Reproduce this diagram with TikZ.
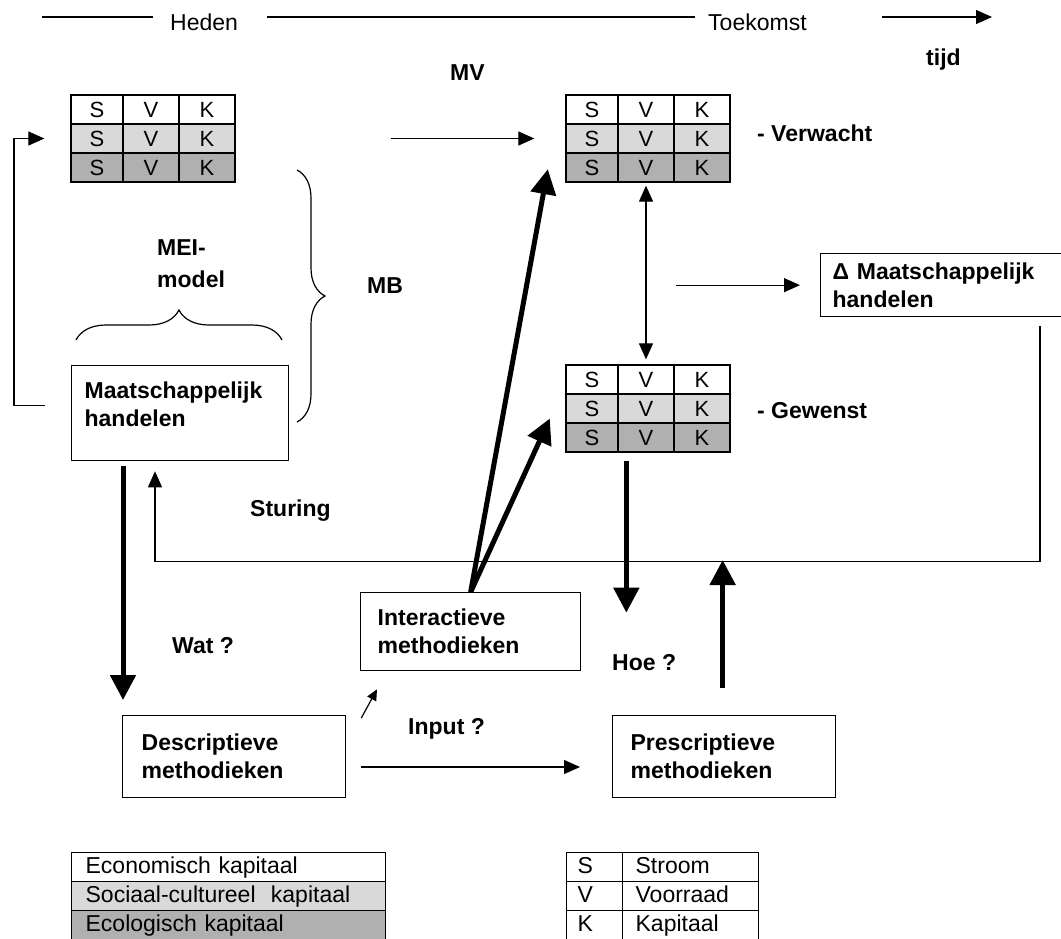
\documentclass[tikz,border=0pt]{standalone}
\usepackage{fontspec}
\setmainfont{Liberation Sans}
\usetikzlibrary{arrows.meta,decorations.pathreplacing,calc}
\definecolor{rowB}{HTML}{D9D9D9}
\definecolor{rowC}{HTML}{B0B0B0}
\newcommand{\txtA}{\fontsize{23}{28}\selectfont}
\newcommand{\txtT}{\fontsize{22}{26}\selectfont}
\newcommand{\svk}[3]{%
  \foreach \r/\c in {0/white,1/rowB,2/rowC}{
    \node[cell,fill=\c,minimum width=52pt] (#1-\r-s) at (#2+26,#3+14.5+29*\r) {S};
    \node[cell,fill=\c,minimum width=56pt] (#1-\r-v) at (#2+80,#3+14.5+29*\r) {V};
    \node[cell,fill=\c,minimum width=56pt] (#1-\r-k) at (#2+136,#3+14.5+29*\r) {K};
  }
  \node[inner sep=0pt,minimum width=164pt,minimum height=87pt] (#1) at (#2+82,#3+43.5) {};
}
\tikzset{
  cell/.style={draw,line width=1.3pt,minimum height=29pt,inner sep=0pt,font=\txtT},
  tbox/.style={draw,line width=1.3pt,font=\txtA\bfseries,align=left,inner ysep=0pt,anchor=north west},
  lcell/.style={draw,line width=1.3pt,minimum height=29pt,font=\txtA,align=left,inner ysep=0pt,
    text height=16.5pt,text depth=4.5pt,anchor=north west},
  lbl/.style={font=\txtA\bfseries,inner sep=0pt,anchor=base west},
  plain/.style={font=\txtA,inner sep=0pt,anchor=base west},
  thinline/.style={line width=1.2pt},
  thinarrow/.style={line width=1.2pt,-{Triangle[length=16pt,width=14pt]}},
  dblarrow/.style={line width=1.2pt,{Triangle[length=16pt,width=14pt]}-{Triangle[length=16pt,width=14pt]}},
  smallarrow/.style={line width=1.2pt,-{Triangle[length=11pt,width=10pt]}},
  thickarrow/.style={line width=5pt,-{Triangle[length=25pt,width=25pt]}},
  bracepath/.style={line width=1.2pt,decorate},
}
\begin{document}
\begin{tikzpicture}[x=1pt,y=-1pt]
\useasboundingbox (0,0) rectangle (1061,938);

% header
\node[plain] (hHeden) at (170,30) {Heden};
\node[plain] (hToek) at (708,30) {Toekomst};
\node[lbl] (tijd) at (926,65) {tijd};
\coordinate (h0) at (42,17);
\coordinate (h1) at (153,17);
\coordinate (h2) at (267,17);
\coordinate (h3) at (695,17);
\coordinate (h4) at (882,17);
\coordinate (h5) at (992,17);
\draw[thinline] (h0) -- (h1);
\draw[thinline] (h2) -- (h3);
\draw[thinarrow] (h4) -- (h5);

\node[lbl] (mv) at (450,80) {MV};

% tables
\svk{tN}{71}{95}
\svk{tV}{566}{95}
\svk{tG}{566}{365}
\node[lbl] (verw) at (757,141) {- Verwacht};
\node[lbl] (gew) at (757,418) {- Gewenst};

% boxes
\node[tbox,minimum height=95pt,inner xsep=13pt,text width=191pt] (mh) at (71,365)
  {Maatschappelijk\\handelen\\[-10pt]\mbox{}};
\node[tbox,minimum height=63pt,inner xsep=12pt,text width=219pt] (dmh) at (820,253)
  {Δ Maatschappelijk\\handelen};
\node[tbox,minimum height=82pt,inner xsep=19pt,text width=185pt] (desc) at (122,715)
  {Descriptieve\\methodieken};
\node[tbox,minimum height=78pt,inner xsep=17pt,text width=186pt] (inter) at (360,592)
  {Interactieve\\methodieken};
\node[tbox,minimum height=82pt,inner xsep=18pt,text width=187pt] (presc) at (612,715)
  {Prescriptieve\\methodieken};

% labels
\node[lbl,align=left,anchor=north west,font=\fontsize{23}{32}\selectfont\bfseries] (mei) at (157,239.5) {MEI-\\model};
\node[lbl] (mb) at (367,293) {MB};
\node[lbl] (stur) at (250,516) {Sturing};
\node[lbl] (wat) at (172,653) {Wat ?};
\node[lbl] (hoe) at (612,670) {Hoe ?};
\node[lbl] (inp) at (408,734) {Input ?};

% braces
\coordinate (mbA) at (297,170);
\coordinate (mbB) at (297,422);
\draw[bracepath,decoration={brace,amplitude=28pt}] (mbA) -- (mbB);
\coordinate (meA) at (76,340);
\coordinate (meB) at (282,340);
\draw[bracepath,decoration={brace,amplitude=30pt}] (meA) -- (meB);

% left feedback
\coordinate (fbS) at ($(mh.west)+(-26,-8)$);
\coordinate (fbE) at ($(tN-1-s.west)+(-26,0)$);
\draw[thinarrow] (fbS) -- ++(-31,0) |- (fbE);

% MV arrow
\coordinate (mvS) at ($(tN-1-k.east)+(155,0)$);
\coordinate (mvE) at ($(tV-1-s.west)+(-31,0)$);
\draw[thinarrow] (mvS) -- (mvE);

% double arrow
\draw[dblarrow,shorten <=3pt,shorten >=5pt] (tV-2-v.south) -- (tG-0-v.north);

% to delta box
\coordinate (dS) at ($(dmh.west)+(-144,0)$);
\draw[thinarrow,shorten >=20pt] (dS) -- (dmh.west);

% sturing feedback
\draw[thinarrow] ([shift={(220,9)}]dmh.south west) -- ++(0,235) -| ([shift={(84,10)}]mh.south west);

% thick arrows
\draw[thickarrow] ([shift={(52,5)}]mh.south west) -- ([shift={(1,-15)}]desc.north west);
\draw[thickarrow] (inter.north) -- ([shift={(-18,-13)}]tV.south west);
\draw[thickarrow] (inter.north) -- ([shift={(-16,10)}]tG.west);
\draw[thickarrow] ([shift={(9,8)}]tG-2-v.south west) -- ([shift={(9,160)}]tG-2-v.south west);
\coordinate (upE) at ($(presc.north)+(-1.5,-155)$);
\draw[thickarrow] ([shift={(-1.5,-27)}]presc.north) -- (upE);

% small arrows
\draw[smallarrow] ([shift={(15,3)}]desc.north east) -- ([shift={(17,18)}]inter.south west);
\draw[thinarrow] ([shift={(15,52)}]desc.north east) -- ([shift={(-32,52)}]presc.north west);

% legends
\node[lcell,fill=white,minimum width=314pt,inner xsep=14pt,text width=286pt] (lE) at (71,852) {Economisch kapitaal};
\node[lcell,fill=rowB,minimum width=314pt,inner xsep=14pt,text width=286pt] (lS) at (71,881) {Sociaal-cultureel\ \ kapitaal};
\node[lcell,fill=rowC,minimum width=314pt,inner xsep=14pt,text width=286pt] (lC) at (71,910) {Ecologisch kapitaal};

\node[lcell,minimum width=56pt,inner xsep=11pt,text width=34pt] (kS) at (566,852) {S};
\node[lcell,minimum width=136pt,inner xsep=13pt,text width=110pt] (kSt) at (622,852) {Stroom};
\node[lcell,minimum width=56pt,inner xsep=11pt,text width=34pt] (kV) at (566,881) {V};
\node[lcell,minimum width=136pt,inner xsep=13pt,text width=110pt] (kVo) at (622,881) {Voorraad};
\node[lcell,minimum width=56pt,inner xsep=11pt,text width=34pt] (kK) at (566,910) {K};
\node[lcell,minimum width=136pt,inner xsep=13pt,text width=110pt] (kKa) at (622,910) {Kapitaal};
\end{tikzpicture}
\end{document}
